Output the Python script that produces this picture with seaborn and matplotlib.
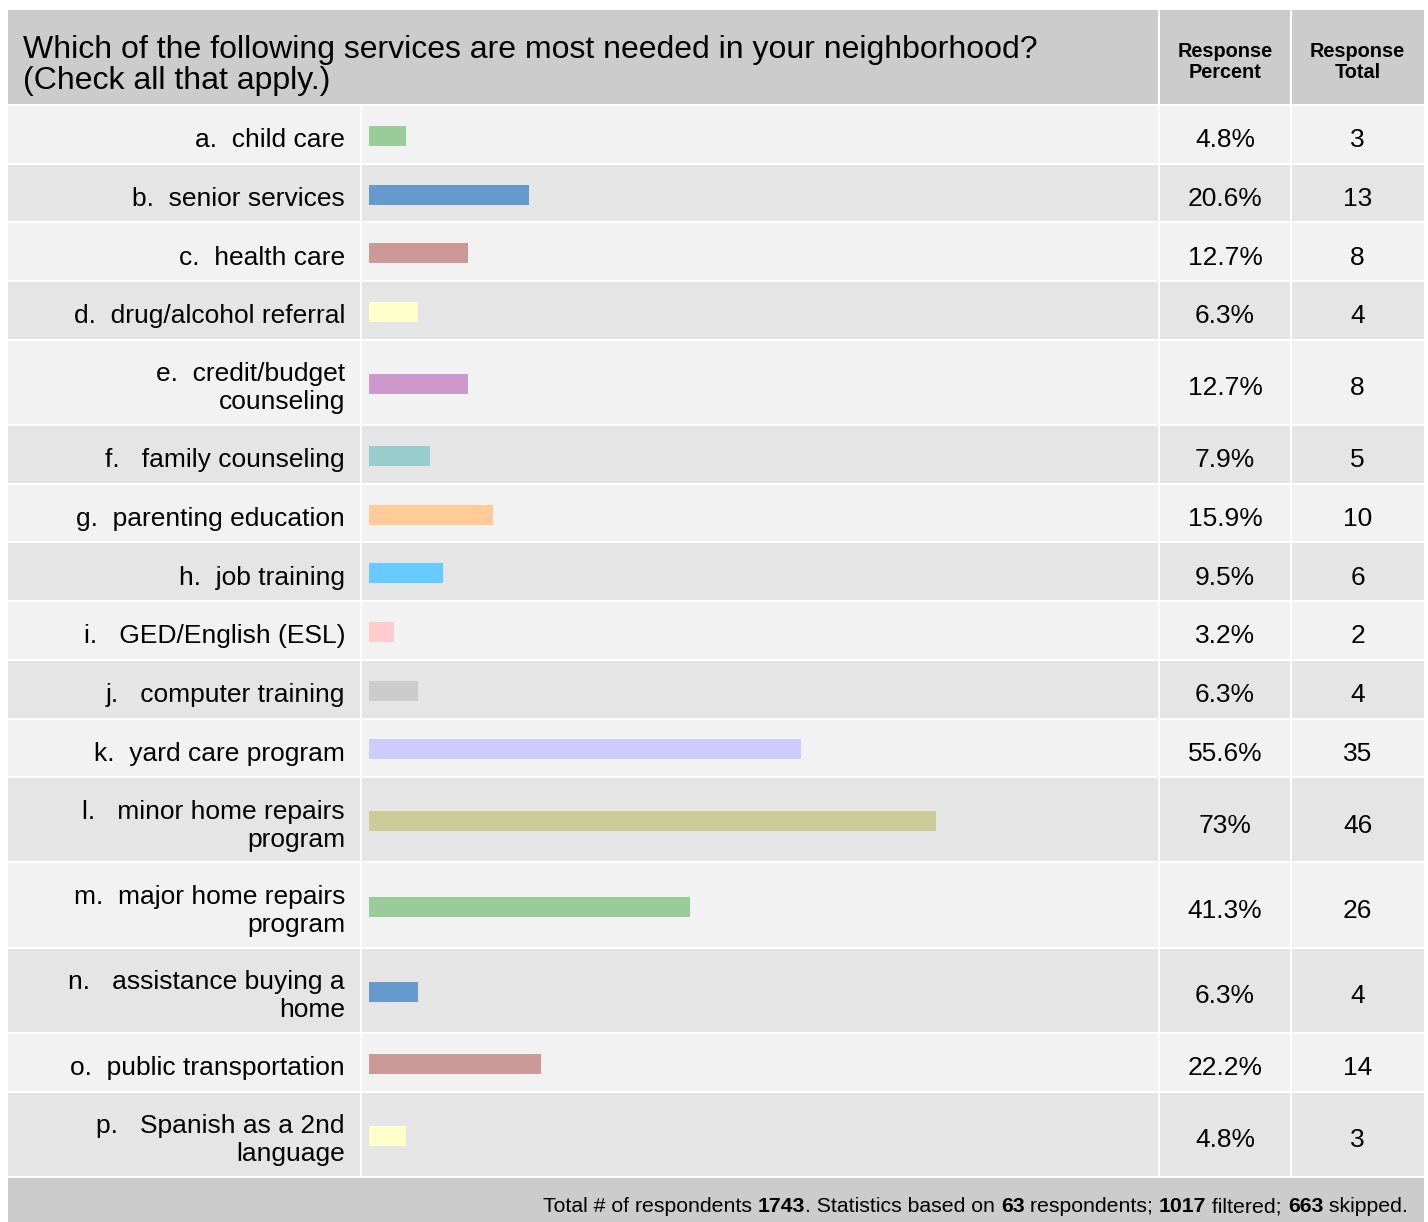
import numpy as np
import pandas as pd
import seaborn as sns
import matplotlib.pyplot as plt
from matplotlib.patches import Rectangle
from matplotlib import font_manager

sns.set_theme(style='white')
plt.rcParams['font.family'] = ['Liberation Sans', 'DejaVu Sans']

question = 'Which of the following services are most needed in your neighborhood?\n(Check all that apply.)'
col_headers = ['Response\nPercent', 'Response\nTotal']
labels = [
    'a.  child care',
    'b.  senior services',
    'c.  health care',
    'd.  drug/alcohol referral',
    'e.  credit/budget\ncounseling',
    'f.   family counseling',
    'g.  parenting education',
    'h.  job training',
    'i.   GED/English (ESL)',
    'j.   computer training',
    'k.  yard care program',
    'l.   minor home repairs\nprogram',
    'm.  major home repairs\nprogram',
    'n.   assistance buying a\nhome',
    'o.  public transportation',
    'p.   Spanish as a 2nd\nlanguage',
]
percent = [4.8, 20.6, 12.7, 6.3, 12.7, 7.9, 15.9, 9.5, 3.2, 6.3, 55.6, 73, 41.3, 6.3, 22.2, 4.8]
totals = [3, 13, 8, 4, 8, 5, 10, 6, 2, 4, 35, 46, 26, 4, 14, 3]
bar_colors = ['#99cc99', '#6699cc', '#cc9999', '#ffffcc', '#cc99cc', '#99cccc', '#ffcc99', '#66ccff',
              '#ffcccc', '#cccccc', '#ccccff', '#cccc99', '#99cc99', '#6699cc', '#cc9999', '#ffffcc']
footer_parts = [('Total # of respondents ', False), ('1743', True), ('. Statistics based on ', False),
                ('63', True), (' respondents; ', False), ('1017', True), (' filtered; ', False),
                ('663', True), (' skipped.', False)]

# layout (pixels)
W, H = 1428, 1222
x0, x1, x2, x3, x4 = 8, 361, 1159, 1291, 1424
gap = 2
head_top, head_bot = 10, 104
row_h1, row_h2 = 56.7, 83.2

tops, bots = [], []
y = head_bot + gap
for lab in labels:
    h = row_h2 if '\n' in lab else row_h1
    tops.append(y)
    bots.append(y + h)
    y += h + gap
centers = [(t + b) / 2 for t, b in zip(tops, bots)]

fig = plt.figure(figsize=(W / 100, H / 100), dpi=100)
ax = fig.add_axes([0, 0, 1, 1])
ax.set_xlim(0, W)
ax.set_ylim(H, 0)
ax.axis('off')

head_col = '#cccccc'
row_cols = ['#f2f2f2', '#e5e5e5']

def cell(xa, xb, ya, yb, color):
    ax.add_patch(Rectangle((xa, ya), xb - xa, yb - ya, facecolor=color, edgecolor='none'))

# header
cell(x0, x2 - gap / 2, head_top, head_bot, head_col)
cell(x2 + gap / 2, x3 - gap / 2, head_top, head_bot, head_col)
cell(x3 + gap / 2, x4, head_top, head_bot, head_col)
ax.text(23, 65.5, question, fontsize=23, ha='left', va='center', linespacing=1.06, color='black')
ax.text((x2 + x3) / 2, 62, col_headers[0], fontsize=14.3, fontweight='bold', ha='center', va='center',
        linespacing=1.15, color='black')
ax.text((x3 + x4) / 2, 62, col_headers[1], fontsize=14.3, fontweight='bold', ha='center', va='center',
        linespacing=1.15, color='black')

# rows
for i, lab in enumerate(labels):
    c = row_cols[i % 2]
    t, b = tops[i], bots[i]
    cell(x0, x1 - gap / 2, t, b, c)
    cell(x1 + gap / 2, x2 - gap / 2, t, b, c)
    cell(x2 + gap / 2, x3 - gap / 2, t, b, c)
    cell(x3 + gap / 2, x4, t, b, c)
    yc = centers[i] + 6
    ax.text(345, yc, lab, fontsize=19, ha='right', va='center', multialignment='right',
            linespacing=1.2, color='black')
    ax.text((x2 + x3) / 2, yc, f'{percent[i]:g}%', fontsize=19, ha='center', va='center', color='black')
    ax.text((x3 + x4) / 2, yc, f'{totals[i]}', fontsize=19, ha='center', va='center', color='black')

# footer
foot_top = bots[-1] + gap
cell(x0, x4, foot_top, H, head_col)
installed = {f.name for f in font_manager.fontManager.ttflist}
if 'Liberation Sans Narrow' in installed:
    foot_family, foot_size = 'Liberation Sans Narrow', 16.5
else:
    foot_family, foot_size = 'Liberation Sans', 15.3
prev = None
for txt, bold in reversed(footer_parts):
    kw = dict(fontsize=foot_size, fontweight='bold' if bold else 'normal', color='black',
              family=[foot_family, 'DejaVu Sans'])
    if prev is None:
        prev = ax.text(1408, 1207, txt, ha='right', va='center', **kw)
    else:
        prev = ax.annotate(txt, xy=(0, 0.5), xycoords=prev, ha='right', va='center', **kw)

# bars
df = pd.DataFrame({'label': labels, 'percent': percent, 'ycenter': np.array(centers) + 1.5})
bar_ax = fig.add_axes([(x1 + 1) / W, 0, (x2 - x1 - 1) / W, 1])
bar_ax.set_facecolor('none')
native = np.diff(np.sort(df['ycenter'].values)).min()
sns.barplot(data=df, x='percent', y='ycenter', hue='label', palette=bar_colors, dodge=False,
            orient='h', native_scale=True, width=20 / native, errorbar=None, legend=False,
            saturation=1, linewidth=0, ax=bar_ax)
px_per_pct = 7.77
bar_ax.set_xlim(-7 / px_per_pct, (x2 - x1 - 8) / px_per_pct)
bar_ax.set_ylim(H, 0)
bar_ax.axis('off')

fig.savefig('out.png', dpi=100)
